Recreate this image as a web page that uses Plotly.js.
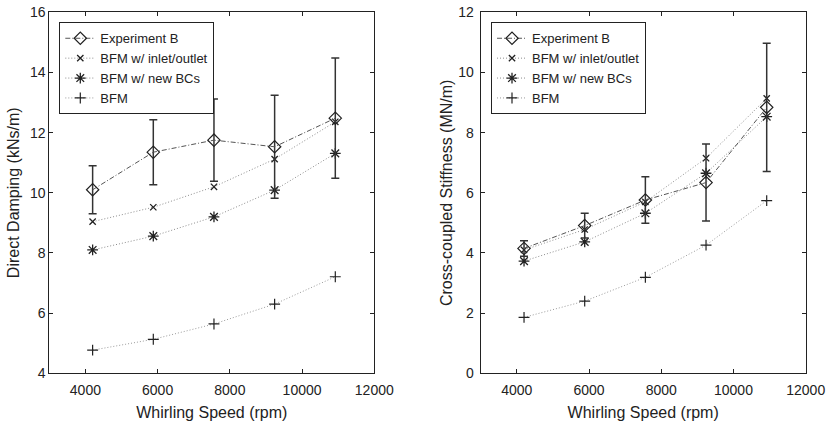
<!DOCTYPE html>
<html>
<head>
<meta charset="utf-8">
<script src="https://cdn.plot.ly/plotly-3.0.1.min.js"></script>
<style>html,body{margin:0;padding:0;background:#fff;}#chart{width:828px;height:427px;}</style>
</head>
<body>
<div id="chart"></div>
<script>
// Whirling speed (rpm)
const speed = [4200, 5880, 7560, 9240, 10920];

// Left: Direct Damping (kNs/m)
const dampExpB = [10.1, 11.35, 11.75, 11.53, 12.48];
const dampExpBErr = [0.8, 1.08, 1.37, 1.71, 2.0];
const dampInletOutlet = [9.04, 9.52, 10.2, 11.12, 12.36];
const dampNewBCs = [8.1, 8.56, 9.2, 10.09, 11.31];
const dampBFM = [4.77, 5.13, 5.64, 6.3, 7.21];

// Right: Cross-coupled Stiffness (MN/m)
const stiffExpB = [4.15, 4.91, 5.76, 6.34, 8.84];
const stiffExpBErr = [0.26, 0.41, 0.77, 1.28, 2.13];
const stiffInletOutlet = [4.1, 4.78, 5.7, 7.15, 9.14];
const stiffNewBCs = [3.73, 4.37, 5.32, 6.65, 8.53];
const stiffBFM = [1.86, 2.4, 3.19, 4.26, 5.74];

const seriesNames = ["Experiment B", "BFM w/ inlet/outlet", "BFM w/ new BCs", "BFM"];
const xTicks = [4000, 6000, 8000, 10000, 12000];
const xTickText = ["4000", "6000", "8000", "10000", "12000"];
const yTicksLeft = [4, 6, 8, 10, 12, 14, 16];
const yTicksRight = [0, 2, 4, 6, 8, 10, 12];

const FONT = "Liberation Sans, Arial, Helvetica, sans-serif";
const MK = "#222";
const DOT = "1px,2px";
const DASHDOT = "5px,2px,1px,2px";

function makeTraces(xa, ya, leg, expB, expErr, io, nb, bfm) {
  return [
    {x: speed, y: io, name: seriesNames[1], xaxis: xa, yaxis: ya, legend: leg, legendrank: 2,
     mode: "lines+markers", line: {color: "#8c8c8c", width: 1, dash: DOT},
     marker: {symbol: "x-thin-open", size: 6.3, color: MK, line: {width: 1.3, color: MK}}},
    {x: speed, y: nb, name: seriesNames[2], xaxis: xa, yaxis: ya, legend: leg, legendrank: 3,
     mode: "lines+markers", line: {color: "#8c8c8c", width: 1, dash: DOT},
     marker: {symbol: "asterisk-open", size: 9, color: MK, line: {width: 1.3, color: MK}}},
    {x: speed, y: bfm, name: seriesNames[3], xaxis: xa, yaxis: ya, legend: leg, legendrank: 4,
     mode: "lines+markers", line: {color: "#9a9a9a", width: 1, dash: DOT},
     marker: {symbol: "cross-thin-open", size: 7.8, color: MK, line: {width: 1.2, color: MK}}},
    {x: speed, y: expB, name: seriesNames[0], xaxis: xa, yaxis: ya, legend: leg, legendrank: 1,
     mode: "lines+markers", line: {color: "#555", width: 1, dash: DASHDOT},
     marker: {symbol: "diamond-open", size: 9.5, color: MK, line: {width: 1.2, color: MK}},
     error_y: {type: "data", array: expErr, visible: true, color: "#333", thickness: 1.5, width: 4}}
  ];
}

const data = [].concat(
  makeTraces("x", "y", "legend", dampExpB, dampExpBErr, dampInletOutlet, dampNewBCs, dampBFM),
  makeTraces("x2", "y2", "legend2", stiffExpB, stiffExpBErr, stiffInletOutlet, stiffNewBCs, stiffBFM)
);

const axBase = {
  showgrid: false, zeroline: false, showline: true, mirror: "ticks",
  linecolor: "#222", linewidth: 1, ticks: "inside", ticklen: 4, tickcolor: "#222",
  tickfont: {family: FONT, size: 14, color: "#222"}
};
const titleFont = {family: FONT, size: 16, color: "#222"};
const legBase = {
  xanchor: "left", yanchor: "top", bgcolor: "#fff", bordercolor: "#222", borderwidth: 1,
  font: {family: FONT, size: 13, color: "#222"}, traceorder: "normal", itemwidth: 30,
  tracegroupgap: 0
};

const yDom = [1 - 373.3 / 427, 1 - 12.3 / 427];
const layout = {
  width: 828, height: 427,
  margin: {l: 0, r: 0, t: 0, b: 0},
  paper_bgcolor: "#fff", plot_bgcolor: "#fff",
  font: {family: FONT, color: "#222"},
  xaxis: Object.assign({}, axBase, {domain: [49.3 / 828, 374.3 / 828], range: [3000, 12000],
    tickvals: xTicks, ticktext: xTickText, anchor: "y", ticklabelstandoff: 4,
    title: {text: "Whirling Speed (rpm)", font: titleFont, standoff: 9}}),
  yaxis: Object.assign({}, axBase, {domain: yDom, range: [4, 16], tickvals: yTicksLeft, anchor: "x",
    title: {text: "Direct Damping (kNs/m)", font: titleFont, standoff: 6}}),
  xaxis2: Object.assign({}, axBase, {domain: [480.7 / 828, 805.7 / 828], range: [3000, 12000],
    tickvals: xTicks, ticktext: xTickText, anchor: "y2", ticklabelstandoff: 4,
    title: {text: "Whirling Speed (rpm)", font: titleFont, standoff: 9}}),
  yaxis2: Object.assign({}, axBase, {domain: yDom, range: [0, 12], tickvals: yTicksRight, anchor: "x2",
    ticklabelstandoff: 3,
    title: {text: "Cross-coupled Stiffness (MN/m)", font: titleFont, standoff: 1}}),
  legend: Object.assign({}, legBase, {x: 59.3 / 828, y: 1 - 22.3 / 427}),
  legend2: Object.assign({}, legBase, {x: 491 / 828, y: 1 - 22.3 / 427}),
  showlegend: true
};

Plotly.newPlot("chart", data, layout, {staticPlot: true, displayModeBar: false});
</script>
</body>
</html>
